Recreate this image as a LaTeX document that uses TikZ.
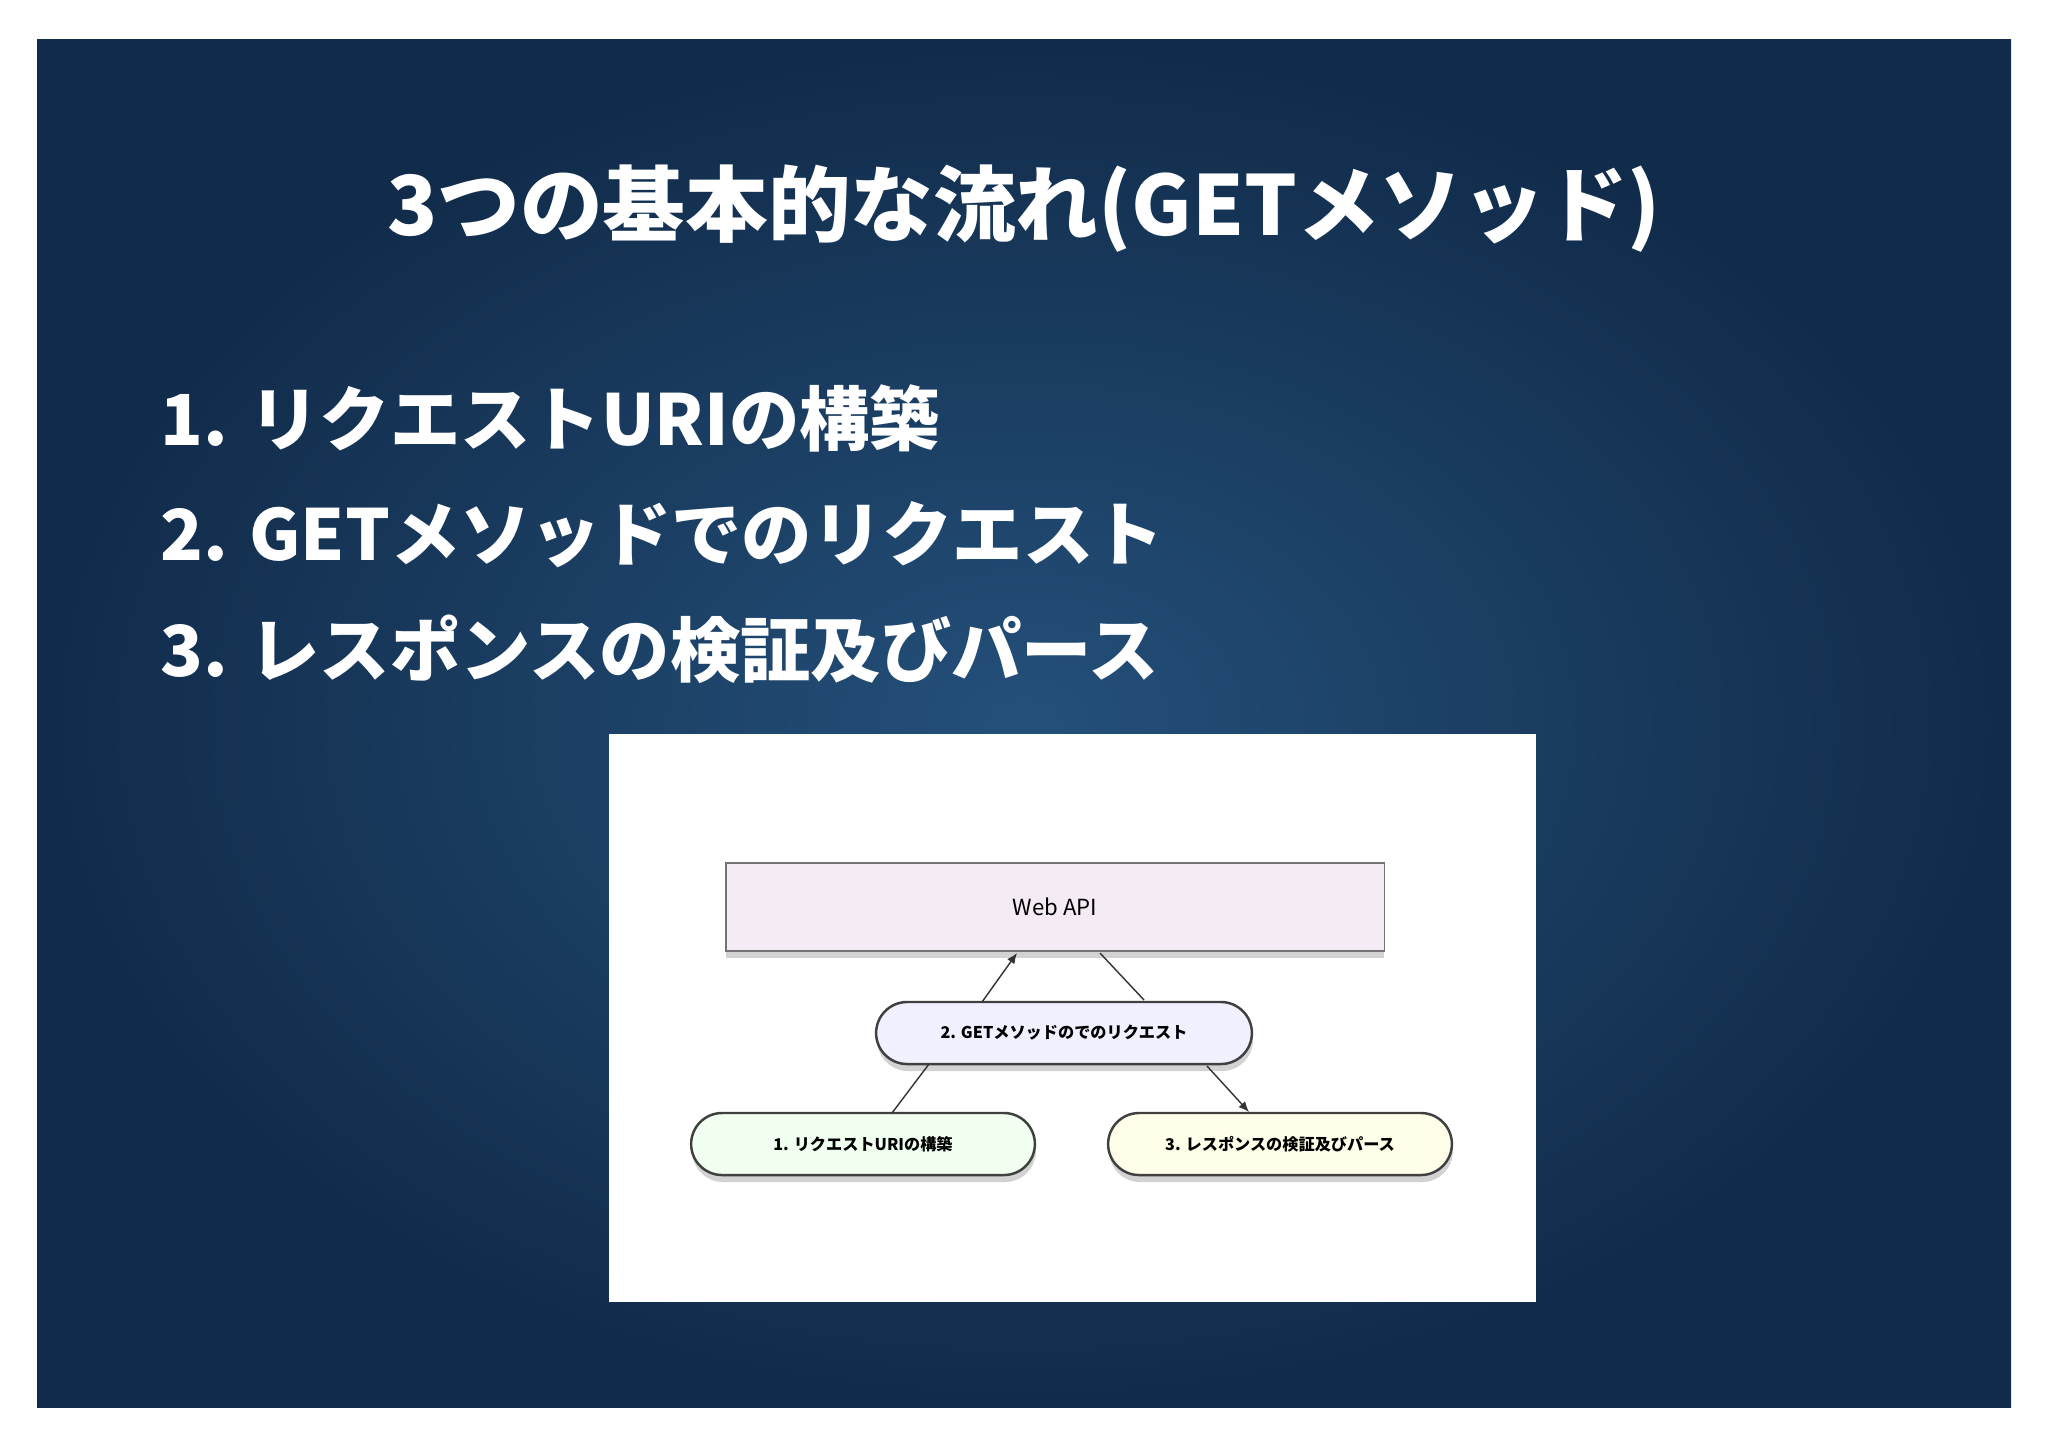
\documentclass[tikz,border=0pt]{standalone}
\usepackage{fontspec}
\setmainfont{Noto Sans CJK JP}
\usetikzlibrary{shapes.misc,shadows,arrows.meta}
\definecolor{bgin}{HTML}{24507A}
\definecolor{bgout}{HTML}{112B4A}
\tikzset{
  pill/.style={rounded rectangle, draw=black!75, line width=0.7pt, minimum height=0.62cm,
    drop shadow={shadow xshift=0.3pt, shadow yshift=-2pt, opacity=0.35}, font=\fontsize{4.6}{5}\selectfont\bfseries},
  conn/.style={draw=black!80, line width=0.4pt},
  arr/.style={conn, -{Latex[length=3pt,width=2.5pt]}},
  listtext/.style={anchor=west, text=white, font=\fontsize{20}{24}\selectfont\bfseries}
}
\begin{document}
\begin{tikzpicture}[x=0.01cm,y=-0.01cm]
\useasboundingbox (0,0) rectangle (2048,1447);
\fill[white] (0,0) rectangle (2048,1447);
\shade[inner color=bgin, outer color=bgout] (37,39) rectangle (2011,1407);
\node[text=white, font=\fontsize{23.5}{28}\selectfont\bfseries] (title) at (1024,209) {3つの基本的な流れ(GETメソッド)};
\node[listtext] (l1) at (148,418) {1. リクエストURIの構築};
\node[listtext] (l2) at (148,535) {2. GETメソッドでのリクエスト};
\node[listtext] (l3) at (148,649) {3. レスポンスの検証及びパース};
\fill[white] (609,734) rectangle (1536,1302);
\node[draw=black!55, fill=red!4!white!96!blue, minimum width=6.58cm, minimum height=0.88cm,
  drop shadow={shadow xshift=0pt, shadow yshift=-2pt, opacity=0.35},
  font=\fontsize{6.3}{7}\selectfont] (api) at (1055,907) {Web API};
\node[pill, fill=blue!6, minimum width=3.99cm] (n2) at (1064,1033) {2. GETメソッドのでのリクエスト};
\node[pill, fill=green!6, minimum width=3.67cm] (n1) at (863,1144) {1. リクエストURIの構築};
\node[pill, fill=yellow!9, minimum width=3.67cm] (n3) at (1280,1144) {3. レスポンスの検証及びパース};
\coordinate (a1) at (982,1002); \coordinate (a2) at (1017,953);
\coordinate (b1) at (1144,1000); \coordinate (b2) at (1100,953);
\coordinate (c1) at (929,1064); \coordinate (c2) at (892,1113);
\coordinate (d1) at (1207,1066); \coordinate (d2) at (1249,1112);
\draw[arr] (a1) -- (a2);
\draw[conn] (b1) -- (b2);
\draw[conn] (c1) -- (c2);
\draw[arr] (d1) -- (d2);
\end{tikzpicture}
\end{document}
